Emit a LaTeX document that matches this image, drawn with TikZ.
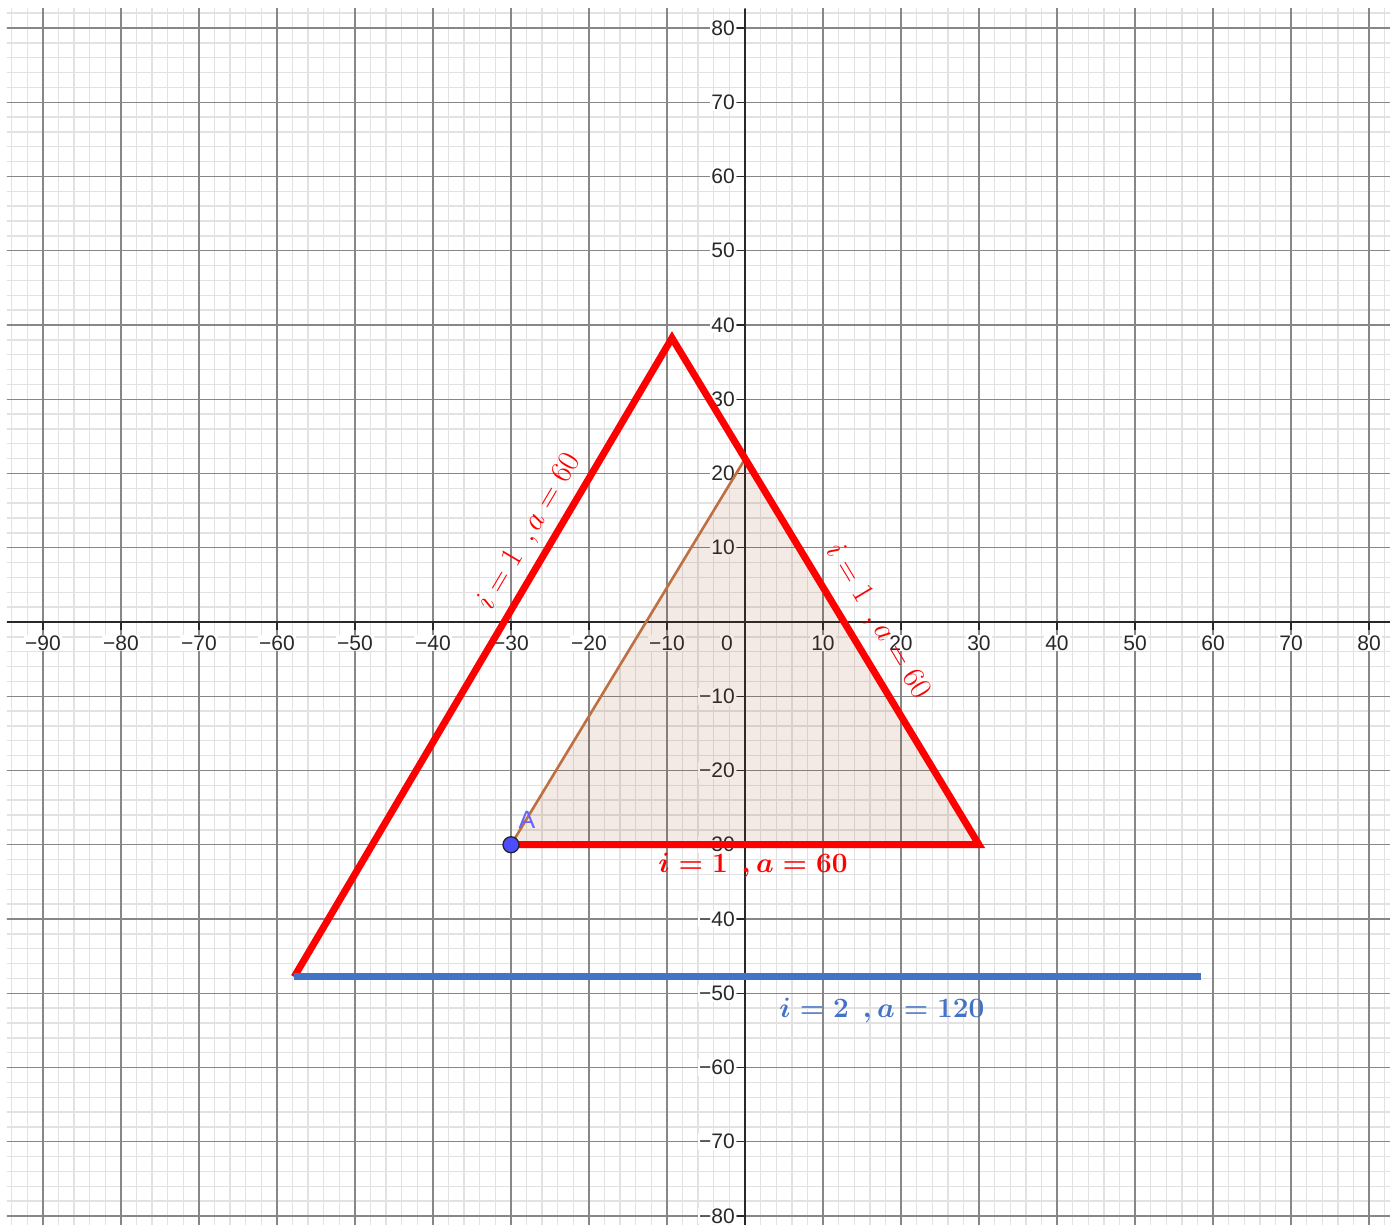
\RequirePackage{fix-cm}
\documentclass[tikz,border=0pt]{standalone}
\usepackage{fontspec}
\newfontfamily\axisfont{Liberation Sans}
\usetikzlibrary{positioning}
\definecolor{gridminor}{RGB}{226,226,226}
\definecolor{gridmajor}{RGB}{135,135,135}
\definecolor{axisdark}{RGB}{40,40,40}
\definecolor{ptblue}{RGB}{77,77,255}
\definecolor{lblblue}{RGB}{100,100,255}
\definecolor{polybrown}{RGB}{153,51,0}
\definecolor{edgebrown}{RGB}{190,112,66}
\definecolor{wordblue}{RGB}{68,114,196}

\begin{document}
\begin{tikzpicture}[
  x=7.8pt, y=7.425pt,
  minorgrid/.style={draw=gridminor, line width=1.4pt},
  majorgrid/.style={draw=gridmajor, line width=1.3pt},
  axisline/.style={draw=axisdark, line width=2.2pt},
  axistick/.style={draw=axisdark, line width=1.4pt},
  ticklab/.style={font=\axisfont\fontsize{21}{21}\selectfont, text=axisdark,
    fill=white, inner sep=1pt},
  turtle/.style={draw=red, line width=7pt},
  eqlab/.style={font=\fontsize{31}{33}\selectfont, text=red, inner sep=0pt},
  eqbold/.style={eqlab, font=\fontsize{28}{30}\selectfont\boldmath}
]
  \useasboundingbox[fill=white] (-95.513,-81.212) rectangle (82.692,83.771);
  \begin{scope}
    \clip (-94.615,-81.212) rectangle (82.692,82.559);
    \foreach \x in {-94,-92,...,82} \draw[minorgrid] (\x,-82) -- (\x,84);
    \foreach \y in {-82,-80,...,84} \draw[minorgrid] (-96,\y) -- (84,\y);
    \foreach \x in {-90,-80,...,80} \draw[majorgrid] (\x,-82) -- (\x,84);
    \foreach \y in {-80,-70,...,80} \draw[majorgrid] (-96,\y) -- (84,\y);
  \end{scope}

  \coordinate (xmin) at (-94.615,0);
  \coordinate (xmax) at (82.692,0);
  \coordinate (ymin) at (0,-81.212);
  \coordinate (ymax) at (0,82.559);
  \draw[axisline] (xmin) -- (xmax);
  \draw[axisline] (ymin) -- (ymax);
  \foreach \x in {-90,-80,...,80} \draw[axistick] (\x,0) -- ++(0,-8pt);
  \foreach \y in {-80,-70,...,80} \draw[axistick] (0,\y) -- ++(-8pt,0);

  \foreach \x in {10,20,...,90} \node[ticklab] (xn\x) at (-\x,-2.83) {−\x};
  \foreach \x in {10,20,...,80} \node[ticklab] (xp\x) at (\x,-2.83) {\x};
  \foreach \y in {10,20,...,80} \node[ticklab, anchor=east] (yn\y) at (-1.15,-\y) {−\y};
  \foreach \y in {10,20,...,80} \node[ticklab, anchor=east] (yp\y) at (-1.15,\y) {\y};
  \node[ticklab] (orig) at (-2.31,-2.83) {0};

  \coordinate (A) at (-30,-30);
  \coordinate (B) at (30,-30);
  \coordinate (C) at (0,21.96);
  \filldraw[fill=polybrown, fill opacity=0.1, draw=edgebrown, line width=2.6pt]
    (A) -- (B) -- (C) -- cycle;

  \coordinate (P) at (-57.8,-47.8);
  \coordinate (Q) at (-9.36,38.25);
  \coordinate (R) at (58.5,-47.8);
  \draw[turtle] (A) -- (B) -- (Q) -- (P);
  \draw[draw=wordblue, line width=7pt] (P) -- (R);

  \node[circle, fill=ptblue, draw=black!85, line width=1.3pt, minimum size=16pt,
    inner sep=0pt] (dotA) at (A) {};
  \node[text=lblblue, font=\axisfont\fontsize{25}{25}\selectfont, inner sep=0pt]
    (labA) at (-27.95,-26.67) {A};

  \node[eqlab, rotate=59.4] (lableft) at (-27.6,12.1) {$i = 1\ \,,a = 60$};
  \node[eqlab, rotate=-59] (labright) at (16.9,0.0) {$i = 1\ \,,a = 60$};
  \node[eqbold] (labbottom) at (1.03,-32.73) {$i = 1\ \,,a = 60$};
  \node[eqbold, text=wordblue] (labblue) at (17.56,-52.26) {$i = 2\ \,,a = 120$};
\end{tikzpicture}
\end{document}
